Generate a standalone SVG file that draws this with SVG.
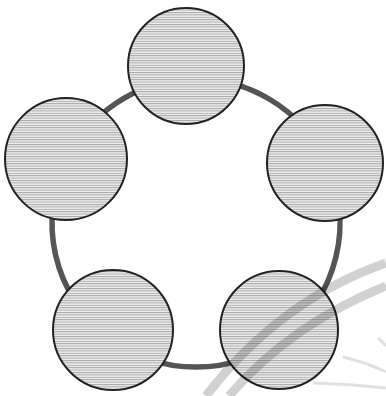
<svg xmlns="http://www.w3.org/2000/svg" width="386" height="396" viewBox="0 0 386 396">
  <defs>
    <pattern id="hatch" patternUnits="userSpaceOnUse" width="6" height="2.4">
      <rect width="6" height="2.4" fill="#f0f0f0"/>
      <rect y="0" width="6" height="1" fill="#a6a6a6"/>
    </pattern>
  </defs>
  <style>
    .ring { fill: none; stroke: #555555; stroke-width: 5.5; }
    .node { fill: url(#hatch); stroke: #222222; stroke-width: 2; }
    .band { fill: none; stroke: #000; stroke-opacity: 0.18; stroke-width: 9; }
    .faint { fill: none; stroke: #000; stroke-opacity: 0.12; stroke-width: 3; }
  </style>
  <rect width="386" height="396" fill="#ffffff"/>
  <g id="connectors">
    <path class="ring" d="M186.9,79.3 A144,144 0 0 1 326.6,162.4"/>
    <path class="ring" d="M326.6,162.4 A144,144 0 0 1 284.3,336.8"/>
    <path class="ring" d="M284.3,336.8 A144,144 0 0 1 107.7,336.8"/>
    <path class="ring" d="M107.7,336.8 A144,144 0 0 1 66.8,159.4"/>
    <path class="ring" d="M66.8,159.4 A144,144 0 0 1 186.9,79.3"/>
  </g>
  <g id="node-top"><circle class="node" cx="186" cy="66" r="58"/></g>
  <g id="node-right"><circle class="node" cx="325" cy="163" r="58"/></g>
  <g id="node-bottom-right"><circle class="node" cx="279" cy="330" r="59"/></g>
  <g id="node-bottom-left"><circle class="node" cx="113" cy="330" r="60"/></g>
  <g id="node-left"><circle class="node" cx="66" cy="159" r="61"/></g>
  <g id="background-marks">
    <path class="band" d="M206,396 Q280,300 386,263"/>
    <path class="band" d="M229,396 Q290,325 386,286"/>
    <path class="faint" d="M378,338 Q382,341 386,346"/>
    <path class="faint" d="M343,357 Q365,362 386,372"/>
    <path class="faint" d="M313,383 Q350,384 386,388"/>
  </g>
</svg>
